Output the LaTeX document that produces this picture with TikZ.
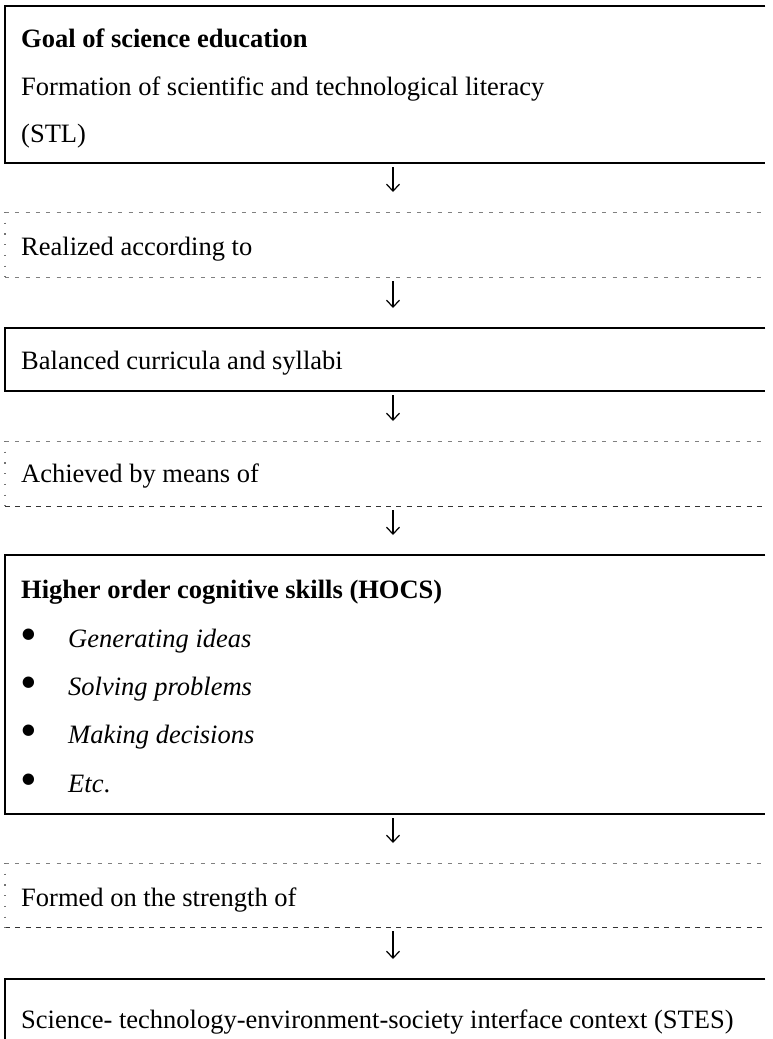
\documentclass[tikz,border=0pt]{standalone}
\usepackage{fontspec}
\usepackage{graphicx}
\setmainfont{Liberation Serif}
\usetikzlibrary{arrows.meta}
\begin{document}
\begin{tikzpicture}[x=1pt,y=-1pt,
  gapbox/.style={rectangle, anchor=north west, inner sep=0pt, minimum width=760pt},
  solidline/.style={draw=black, line width=2pt, line join=miter, line cap=butt},
  topdash/.style={draw=black!50, line width=1pt, dash pattern=on 4pt off 6.3pt},
  botdash/.style={draw=black!50, line width=1pt, dash pattern=on 4pt off 6.3pt},
  darkdash/.style={draw=black!80, line width=1pt, dash pattern=on 5pt off 5.3pt},
  leftdot/.style={draw=black!55, line width=1.3pt, dash pattern=on 1.3pt off 9.4pt},
  txt/.style={anchor=base west, inner sep=0pt, font=\fontsize{26.5}{32}\selectfont},
  arr/.style={line width=1.2pt, -{Straight Barb[length=7pt,width=13pt]}, shorten <=4pt, shorten >=20pt}
]
\fill[white] (0,0) rectangle (772,1039);
\useasboundingbox (0,0) rectangle (772,1039);
\coordinate (ax) at (393,0);

% boxes
\node[gapbox, minimum height=157pt] (b1) at (5,6) {};
\node[gapbox, minimum height=65pt] (d1) at (5,212) {};
\node[gapbox, minimum height=63pt] (b2) at (5,328) {};
\node[gapbox, minimum height=65pt] (d2) at (5,441) {};
\node[gapbox, minimum height=259pt] (b3) at (5,555) {};
\node[gapbox, minimum height=64pt] (d3) at (5,863) {};
\node[gapbox, minimum height=60pt] (b4) at (5,979) {};

% solid box borders (open on the right)
\draw[solidline] (b1.north east) -- (b1.north west) -- (b1.south west) -- (b1.south east);
\draw[solidline] (b2.north east) -- (b2.north west) -- (b2.south west) -- (b2.south east);
\draw[solidline] (b3.north east) -- (b3.north west) -- (b3.south west) -- (b3.south east);
\draw[solidline] (b4.north east) -- (b4.north west) -- (b4.south west);

% dashed box borders
\draw[topdash] (d1.north west) -- (d1.north east);
\draw[botdash] (d1.south west) -- (d1.south east);
\draw[leftdot] (d1.north west) -- (d1.south west);
\draw[topdash] (d2.north west) -- (d2.north east);
\draw[darkdash] (d2.south west) -- (d2.south east);
\draw[leftdot] (d2.north west) -- (d2.south west);
\draw[topdash] (d3.north west) -- (d3.north east);
\draw[darkdash] (d3.south west) -- (d3.south east);
\draw[leftdot] (d3.north west) -- (d3.south west);

% texts
\newcommand{\bul}{\raisebox{-3.5pt}{\scalebox{1.8}{•}}}
\node[txt] (t1) at (21,47) {\textbf{Goal of science education}};
\node[txt] (t2) at (21,95) {Formation of scientific and technological literacy};
\node[txt] (t3) at (21,142) {(STL)};
\node[txt] (t4) at (21,255) {Realized according to};
\node[txt] (t5) at (21,369) {Balanced curricula and syllabi};
\node[txt] (t6) at (21,482) {Achieved by means of};
\node[txt] (t7) at (21,598) {\textbf{Higher order cognitive skills (HOCS)}};
\node[txt] (p1) at (20,647) {\bul};
\node[txt] (i1) at (68,647) {\textit{Generating ideas}};
\node[txt] (p2) at (20,695) {\bul};
\node[txt] (i2) at (68,695) {\textit{Solving problems}};
\node[txt] (p3) at (20,743) {\bul};
\node[txt] (i3) at (68,743) {\textit{Making decisions}};
\node[txt] (p4) at (20,792) {\bul};
\node[txt] (i4) at (68,792) {\textit{Etc}.};
\node[txt] (t8) at (21,906) {Formed on the strength of};
\node[txt] (t9) at (21,1028) {Science- technology-environment-society interface context (STES)};

% arrows
\draw[arr] (b1.south -| ax) -- (d1.north -| ax);
\draw[arr] (d1.south -| ax) -- (b2.north -| ax);
\draw[arr] (b2.south -| ax) -- (d2.north -| ax);
\draw[arr] (d2.south -| ax) -- (b3.north -| ax);
\draw[arr] (b3.south -| ax) -- (d3.north -| ax);
\draw[arr] (d3.south -| ax) -- (b4.north -| ax);
\end{tikzpicture}
\end{document}
